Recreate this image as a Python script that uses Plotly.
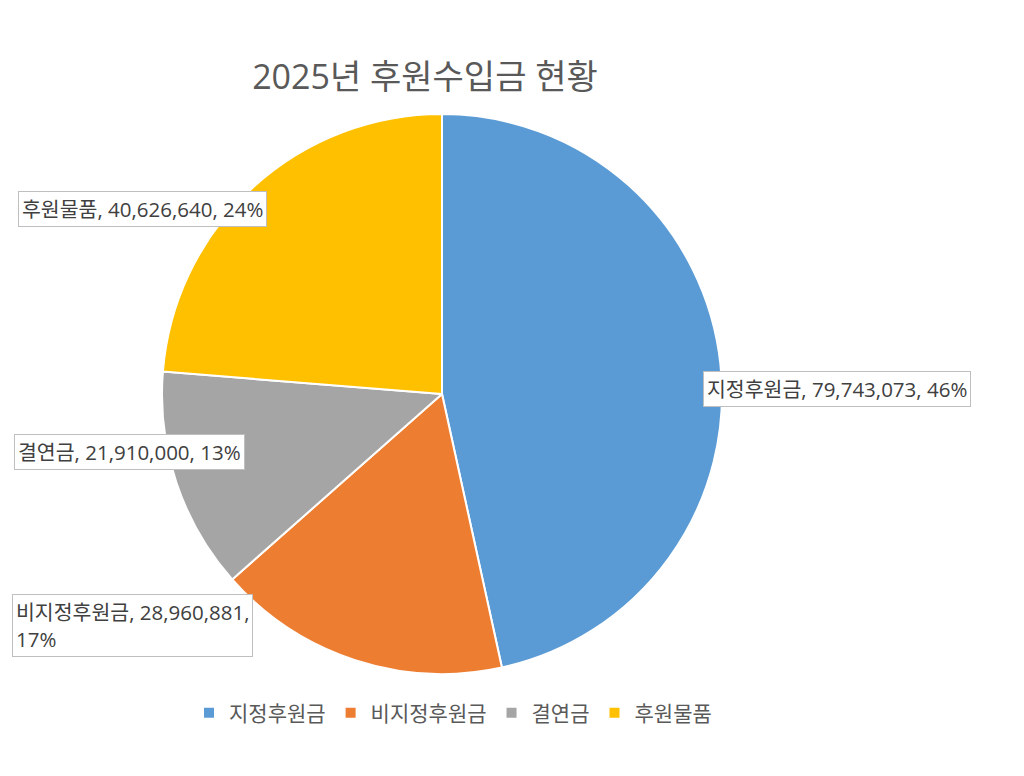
import plotly.graph_objects as go

categories = ["지정후원금", "비지정후원금", "결연금", "후원물품"]
values = [79743073, 28960881, 21910000, 40626640]
percent_labels = [46, 17, 13, 24]
colors = ["#5B9BD5", "#ED7D31", "#A5A5A5", "#FFC000"]
title_text = "2025년 후원수입금 현황"

W, H = 1024, 776
OFF = 8  # page body offset compensation
FONT = "Open Sans, Noto Sans CJK KR"


def px(x):
    return (x - OFF) / W


def py(y):
    return 1 - (y - OFF) / H


R = 280
CX, CY = 442, 394

fig = go.Figure(go.Pie(
    labels=categories,
    values=values,
    sort=False,
    direction="clockwise",
    rotation=0,
    marker=dict(colors=colors, line=dict(color="white", width=2)),
    textinfo="none",
    hoverinfo="label+value+percent",
    domain=dict(x=[px(CX - R), px(CX + R)],
                y=[py(CY + R), py(CY - R)]),
))

# label boxes: (x-left px, y-center px, line-break)
label_pos = [(703, 389, False), (12, 625, True), (14, 452, False), (18, 209, False)]
for (cat, val, p), (lx, ly, brk) in zip(zip(categories, values, percent_labels), label_pos):
    if brk:
        txt = f"{cat}, {val:,},<br>{p}%"
    else:
        txt = f"{cat}, {val:,}, {p}%"
    fig.add_annotation(
        x=px(lx), y=py(ly), xref="paper", yref="paper",
        xanchor="left", yanchor="middle", align="left",
        text=txt, showarrow=False,
        font=dict(family=FONT, size=20.5, color="#404040"),
        bordercolor="#BFBFBF", borderwidth=1, borderpad=3, bgcolor="white",
    )

fig.update_layout(
    width=W, height=H,
    margin=dict(l=0, r=0, t=0, b=0),
    paper_bgcolor="white", plot_bgcolor="white",
    title=dict(text=title_text, x=px(425), xanchor="center",
               y=py(77), yanchor="middle",
               font=dict(family=FONT, size=34, color="#595959")),
    showlegend=True,
    legend=dict(orientation="h", x=px(453), xanchor="center",
                y=py(713), yanchor="middle",
                font=dict(family=FONT, size=21, color="#595959"),
                itemwidth=30, tracegroupgap=0),
)

fig.write_html("out.html")
